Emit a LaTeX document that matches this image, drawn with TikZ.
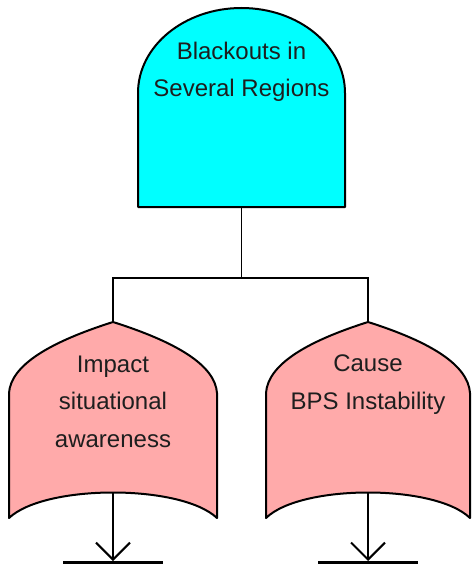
\documentclass[tikz,border=0pt]{standalone}
\usepackage{fontspec}
\setmainfont{Liberation Sans}
\usetikzlibrary{arrows.meta}
\definecolor{gatecyan}{RGB}{0,255,255}
\definecolor{gatepink}{RGB}{255,170,170}
\definecolor{txt}{RGB}{30,30,30}
\tikzset{
  gateline/.style={draw=black, line width=2pt, line join=round},
  andgate/.style={gateline, fill=gatecyan},
  orgate/.style={gateline, fill=gatepink},
  gatetext/.style={align=center, text=txt, font=\fontsize{24}{37.5}\selectfont, inner sep=0pt, anchor=base},
  link/.style={draw=black, line width=1.4pt},
  transfer/.style={draw=black, line width=2pt, -{Straight Barb[length=17pt,width=34pt,line width=2pt]}},
  bar/.style={draw=black, line width=3pt},
}
\begin{document}
\begin{tikzpicture}[x=1pt,y=-1pt]
\useasboundingbox (0,0) rectangle (471,569);

% connectors (behind gates)
\coordinate (topbot) at (241.5,207);
\coordinate (lpeak) at (113,322);
\coordinate (rpeak) at (368,322);
\coordinate (junction) at (241.5,278);
\draw[link] (topbot) -- (junction);
\draw[link] (junction) -| (lpeak);
\draw[link] (junction) -| (rpeak);

% top AND gate
\path[andgate] (138,207) -- (138,93) arc[start angle=180, end angle=360, x radius=103.5, y radius=85] -- (345,207) -- cycle;
\node[gatetext] (toptext) at (241.5,97) {Blackouts in\\Several Regions};

% left OR gate
\coordinate (lbot) at (113,493);
\path[orgate] (lpeak) .. controls (50,342) and (11,365) .. (9,393) -- (9,518)
  .. controls (45,484) and (181,484) .. (217,518) -- (217,393)
  .. controls (215,365) and (176,342) .. (lpeak) -- cycle;
\node[gatetext] (ltext) at (113,447) {Impact\\situational\\awareness};

% right OR gate
\coordinate (rbot) at (368,493);
\path[orgate] (rpeak) .. controls (305,342) and (268,365) .. (266,393) -- (266,518)
  .. controls (301,484) and (435,484) .. (470,518) -- (470,393)
  .. controls (468,365) and (431,342) .. (rpeak) -- cycle;
\node[gatetext] (rtext) at (368,409) {Cause\\BPS Instability};

% transfer symbols
\coordinate (lend) at (113,561);
\coordinate (rend) at (368,561);
\coordinate (lbarA) at (63,562);
\coordinate (lbarB) at (163,562);
\coordinate (rbarA) at (318,562);
\coordinate (rbarB) at (418,562);
\draw[transfer] (lbot) -- (lend);
\draw[transfer] (rbot) -- (rend);
\draw[bar] (lbarA) -- (lbarB);
\draw[bar] (rbarA) -- (rbarB);
\end{tikzpicture}
\end{document}
